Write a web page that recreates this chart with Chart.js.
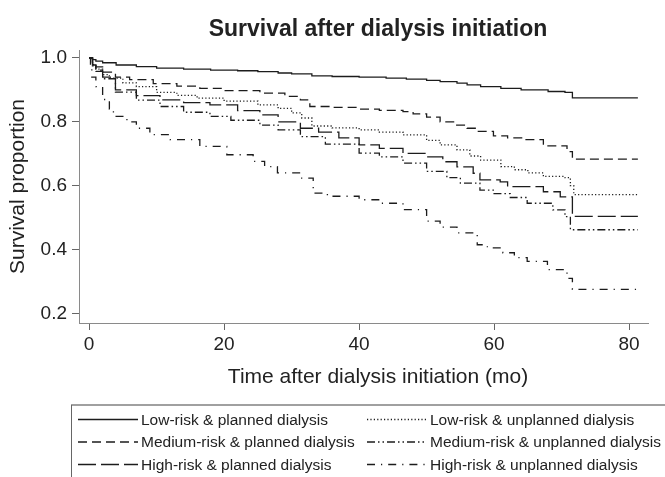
<!DOCTYPE html>
<html><head><meta charset="utf-8">
<script src="https://cdn.jsdelivr.net/npm/chart.js@4/dist/chart.umd.min.js"></script>
<style>html,body{margin:0;padding:0;background:#fff;}canvas{display:block;}</style>
</head><body>
<canvas id="c" width="665" height="477"></canvas>
<script>
const chartTitle = "Survival after dialysis initiation";
const xAxisTitle = "Time after dialysis initiation (mo)";
const yAxisTitle = "Survival proportion";
const xTicks = [0, 20, 40, 60, 80];
const yTicks = [0.2, 0.4, 0.6, 0.8, 1.0];
const seriesNames = [
  "Low-risk & planned dialysis", "Low-risk & unplanned dialysis",
  "Medium-risk & planned dialysis", "Medium-risk & unplanned dialysis",
  "High-risk & planned dialysis", "High-risk & unplanned dialysis"
];

const lowPlannedTime = [0,0.5,1,2,4,7,10,14,18,22,25,28,30,33,36,40,44,47,50,52,54.5,56,58,61,64,68,70.5,71.6,81.3];
const lowPlannedSurv = [1.0,0.995,0.99,0.985,0.978,0.973,0.968,0.965,0.962,0.96,0.957,0.953,0.95,0.944,0.942,0.94,0.937,0.934,0.93,0.926,0.921,0.916,0.91,0.905,0.9,0.895,0.892,0.875,0.875];

const lowUnplannedTime = [0,0.5,1,2,3,5,7,10,13,16,20,25,28,30,31.5,33,36,40,43,46.5,50,52,54.5,56.4,58,61,63,65,67.3,70.5,71.3,71.8,81.3];
const lowUnplannedSurv = [1.0,0.98,0.965,0.948,0.937,0.922,0.91,0.892,0.883,0.874,0.865,0.853,0.842,0.828,0.812,0.787,0.781,0.775,0.768,0.759,0.742,0.728,0.712,0.693,0.68,0.66,0.65,0.64,0.629,0.625,0.60,0.572,0.572];

const medPlannedTime = [0,0.5,1,2,3.9,6,9.5,13,16.4,20,25.3,29,31.3,32.7,36,40,43,46.5,48,50,52,54,56,57.5,59.9,62,64.3,67.3,70.8,71.6,81.3];
const medPlannedSurv = [1.0,0.985,0.972,0.956,0.94,0.932,0.92,0.912,0.905,0.898,0.89,0.88,0.869,0.848,0.845,0.84,0.836,0.832,0.825,0.815,0.80,0.79,0.78,0.77,0.756,0.75,0.744,0.725,0.707,0.683,0.683];

const medUnplannedTime = [0,0.5,1,2,3.9,7,10.5,14,17.9,21,25.3,28,31.3,35,40,43,46.5,50,53,55,57.9,60,62.4,64.9,68.7,70.5,71.3,81.3];
const medUnplannedSurv = [1.0,0.975,0.958,0.935,0.893,0.868,0.848,0.83,0.817,0.805,0.79,0.775,0.754,0.73,0.702,0.69,0.671,0.645,0.625,0.608,0.586,0.575,0.563,0.545,0.524,0.503,0.462,0.462];

const highPlannedTime = [0,0.5,1,2,3.9,7,10.5,14,17.9,22,25.3,28,31.3,34,37,40,43,46.5,50,52.4,54.5,56.9,57.9,60.9,62,64.3,67.3,69.8,71.6,81.3];
const highPlannedSurv = [1.0,0.978,0.962,0.94,0.90,0.882,0.869,0.86,0.853,0.835,0.822,0.80,0.78,0.768,0.75,0.728,0.717,0.701,0.69,0.675,0.659,0.639,0.618,0.612,0.597,0.597,0.581,0.565,0.504,0.504];

const highUnplannedTime = [0,0.2,0.4,1,2,3,3.6,5.6,7,9,12,16.4,20.4,24.3,26,27.9,31.3,33.2,35.3,40,43,46.5,50,52,54.5,57.5,59,61.3,63,64.9,67.9,70.2,70.8,71.6,81.3];
const highUnplannedSurv = [1.0,0.97,0.94,0.91,0.87,0.84,0.817,0.80,0.78,0.76,0.744,0.723,0.697,0.676,0.66,0.64,0.624,0.577,0.567,0.556,0.545,0.525,0.489,0.47,0.452,0.415,0.405,0.39,0.375,0.363,0.337,0.337,0.31,0.275,0.275];

const seriesTimes = [lowPlannedTime, lowUnplannedTime, medPlannedTime, medUnplannedTime, highPlannedTime, highUnplannedTime];
const seriesSurv = [lowPlannedSurv, lowUnplannedSurv, medPlannedSurv, medUnplannedSurv, highPlannedSurv, highUnplannedSurv];
const seriesDash = [[], [1.2, 2.2], [9, 5], [8, 3, 1.5, 3, 1.5, 3], [18, 5], [8, 6, 1.2, 6]];

const FONT = '"Liberation Sans", Arial, Helvetica, sans-serif';
const INK = '#222222';

const datasets = seriesNames.map((name, i) => ({
  label: name,
  data: seriesTimes[i].map((t, j) => ({x: t, y: seriesSurv[i][j]})),
  borderColor: '#1c1c1c',
  borderWidth: 1.3,
  borderDash: seriesDash[i],
  pointRadius: 0,
  fill: false,
  stepped: 'before',
  tension: 0
}));

const textPlugin = {
  id: 'textPlugin',
  afterDraw(chart) {
    const ctx = chart.ctx;
    ctx.save();
    ctx.fillStyle = INK;
    ctx.textAlign = 'center';
    ctx.textBaseline = 'alphabetic';
    ctx.font = 'bold 23px ' + FONT;
    ctx.fillText(chartTitle, 378, 36);
    ctx.font = '21px ' + FONT;
    ctx.fillText(xAxisTitle, 378, 383);

    // legend frame
    ctx.strokeStyle = '#a0a0a0';
    ctx.lineWidth = 2;
    ctx.beginPath(); ctx.moveTo(71, 405); ctx.lineTo(665, 405); ctx.stroke();
    ctx.strokeStyle = '#666666';
    ctx.lineWidth = 1;
    ctx.beginPath(); ctx.moveTo(71.5, 405); ctx.lineTo(71.5, 477); ctx.stroke();

    const colLineX = [[78, 138], [367, 427]];
    const colTextX = [141, 430];
    const rowY = [419.5, 442, 464.5];
    ctx.font = '15.5px ' + FONT;
    ctx.textAlign = 'left';
    ctx.textBaseline = 'middle';
    chart.data.datasets.forEach((ds, i) => {
      const c = i % 2, r = Math.floor(i / 2);
      ctx.strokeStyle = ds.borderColor;
      ctx.lineWidth = ds.borderWidth;
      ctx.setLineDash(ds.borderDash);
      ctx.beginPath();
      ctx.moveTo(colLineX[c][0], rowY[r]);
      ctx.lineTo(colLineX[c][1], rowY[r]);
      ctx.stroke();
      ctx.setLineDash([]);
      ctx.fillStyle = INK;
      ctx.fillText(ds.label, colTextX[c], rowY[r] + 1);
    });
    ctx.restore();
  }
};

new Chart(document.getElementById('c'), {
  type: 'line',
  data: { datasets },
  plugins: [textPlugin],
  options: {
    responsive: false,
    animation: false,
    events: [],
    layout: { padding: { top: 50, right: 17, bottom: 124, left: 0 } },
    plugins: { legend: { display: false }, title: { display: false }, tooltip: { enabled: false } },
    scales: {
      x: {
        type: 'linear',
        min: -1.5, max: 82.8,
        afterBuildTicks: s => { s.ticks = xTicks.map(v => ({value: v})); },
        afterFit: s => { s.height = 30; },
        grid: { drawOnChartArea: false, drawTicks: true, tickLength: 7, color: '#666' },
        border: { display: true, color: '#8a8a8a', width: 1 },
        ticks: { font: { family: FONT, size: 19 }, color: INK, padding: 3, maxRotation: 0, autoSkip: false,
                 callback: v => String(v) }
      },
      y: {
        type: 'linear',
        min: 0.17, max: 1.025,
        afterBuildTicks: s => { s.ticks = yTicks.map(v => ({value: v})); },
        afterFit: s => { s.width = 79; },
        grid: { drawOnChartArea: false, drawTicks: true, tickLength: 7, color: '#666' },
        border: { display: true, color: '#8a8a8a', width: 1 },
        ticks: { font: { family: FONT, size: 19 }, color: INK, padding: 5, autoSkip: false,
                 callback: v => Number(v).toFixed(1) },
        title: { display: true, text: yAxisTitle, font: { family: FONT, size: 21 }, color: INK, padding: { top: 6, bottom: 0 } }
      }
    }
  }
});
</script>
</body></html>
